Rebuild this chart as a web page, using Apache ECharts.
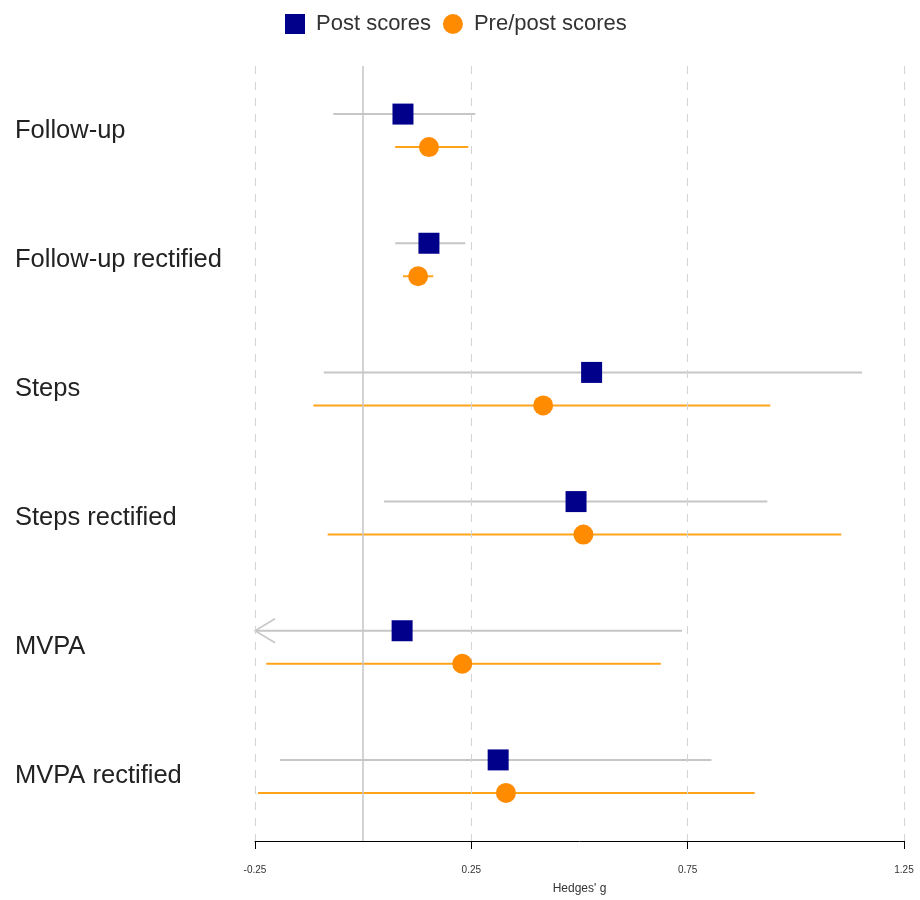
<!DOCTYPE html>
<html><head><meta charset="utf-8">
<script src="https://cdn.jsdelivr.net/npm/echarts@6/dist/echarts.min.js"></script>
<style>html,body{margin:0;padding:0;background:#fff}#c{width:920px;height:900px}</style>
</head><body><div id="c"></div>
<script>
const categories = ['Follow-up','Follow-up rectified','Steps','Steps rectified','MVPA','MVPA rectified'];
const postEst   = [0.092, 0.152, 0.528, 0.492, 0.090, 0.312];
const postLower = [-0.069, 0.074, -0.091, 0.048, -0.56, -0.192];
const postUpper = [0.259, 0.236, 1.153, 0.934, 0.737, 0.805];
const preEst    = [0.152, 0.127, 0.416, 0.509, 0.229, 0.330];
const preLower  = [0.074, 0.092, -0.115, -0.082, -0.224, -0.243];
const preUpper  = [0.243, 0.162, 0.941, 1.105, 0.688, 0.905];
const xTicks = [-0.25, 0.25, 0.75, 1.25];
const xMin = -0.25, xMax = 1.25;

const chart = echarts.init(document.getElementById('c'));
const FONT = 'Liberation Sans, Arial, sans-serif';

function ciSeries(lo, hi, color, offset) {
  return {
    type: 'custom', silent: true, z: 2, legendHoverLink: false,
    data: categories.map((c, i) => [lo[i], hi[i], i]),
    encode: { x: [0, 1], y: 2 },
    renderItem: function (params, api) {
      const l = api.value(0), h = api.value(1), idx = api.value(2);
      const p1 = api.coord([Math.max(l, xMin), idx]);
      const p2 = api.coord([Math.min(h, xMax), idx]);
      const y = p1[1] + offset;
      const children = [{ type: 'line', shape: { x1: p1[0], y1: y, x2: p2[0], y2: y },
        style: { stroke: color, lineWidth: 2 } }];
      if (l < xMin) {
        children.push({ type: 'polyline', shape: { points: [[p1[0] + 20, y - 12], [p1[0], y], [p1[0] + 20, y + 12]] },
          style: { stroke: color, lineWidth: 1.5, fill: null } });
      }
      return { type: 'group', children: children };
    }
  };
}

const option = {
  animation: false,
  backgroundColor: '#fff',
  grid: { left: 255, right: 16, top: 66, height: 780 },
  legend: {
    left: 280, top: 8, itemWidth: 20, itemHeight: 20, itemGap: 12,
    textStyle: { fontSize: 22, color: '#333', fontFamily: FONT, padding: [0, 0, 0, 6] },
    data: [{ name: 'Post scores', icon: 'rect' }, { name: 'Pre/post scores', icon: 'circle' }]
  },
  xAxis: {
    type: 'value', min: xMin, max: xMax,
    splitLine: { show: false },
    axisLine: { show: true, onZero: false, lineStyle: { color: '#000', width: 1 } },
    axisTick: { show: true, customValues: xTicks, length: 8, lineStyle: { color: '#000' } },
    axisLabel: { customValues: xTicks, fontSize: 10, color: '#333', margin: 24, fontFamily: FONT,
      formatter: v => String(v) },
    name: "Hedges' g", nameLocation: 'middle', nameGap: 42,
    nameTextStyle: { fontSize: 12, color: '#333', fontFamily: FONT }
  },
  yAxis: {
    type: 'category', inverse: true, data: categories,
    axisLine: { show: false }, axisTick: { show: false }, splitLine: { show: false },
    axisLabel: { align: 'left', margin: 240, fontSize: 25.5, color: '#222', fontFamily: FONT, padding: [6, 0, 0, 0] }
  },
  series: [
    {
      type: 'line', data: [], silent: true,
      markLine: {
        silent: true, symbol: 'none', label: { show: false },
        lineStyle: { color: '#d4d4d4', type: [8, 8], width: 1 },
        data: xTicks.map(v => ({ xAxis: v })).concat([{ xAxis: 0, lineStyle: { color: '#c4c4c4', type: 'solid', width: 1.5 } }])
      }
    },
    ciSeries(postLower, postUpper, '#c6c6c6', -16.5),
    ciSeries(preLower, preUpper, '#FFA31A', 16.5),
    {
      name: 'Post scores', type: 'scatter', symbol: 'rect', symbolSize: 21, symbolOffset: [0, -16.5], z: 5,
      itemStyle: { color: '#00008B', opacity: 1 },
      data: categories.map((c, i) => [postEst[i], c])
    },
    {
      name: 'Pre/post scores', type: 'scatter', symbol: 'circle', symbolSize: 20, symbolOffset: [0, 16.5], z: 5,
      itemStyle: { color: '#FF8C00', opacity: 1 },
      data: categories.map((c, i) => [preEst[i], c])
    }
  ]
};
chart.setOption(option);
</script></body></html>
